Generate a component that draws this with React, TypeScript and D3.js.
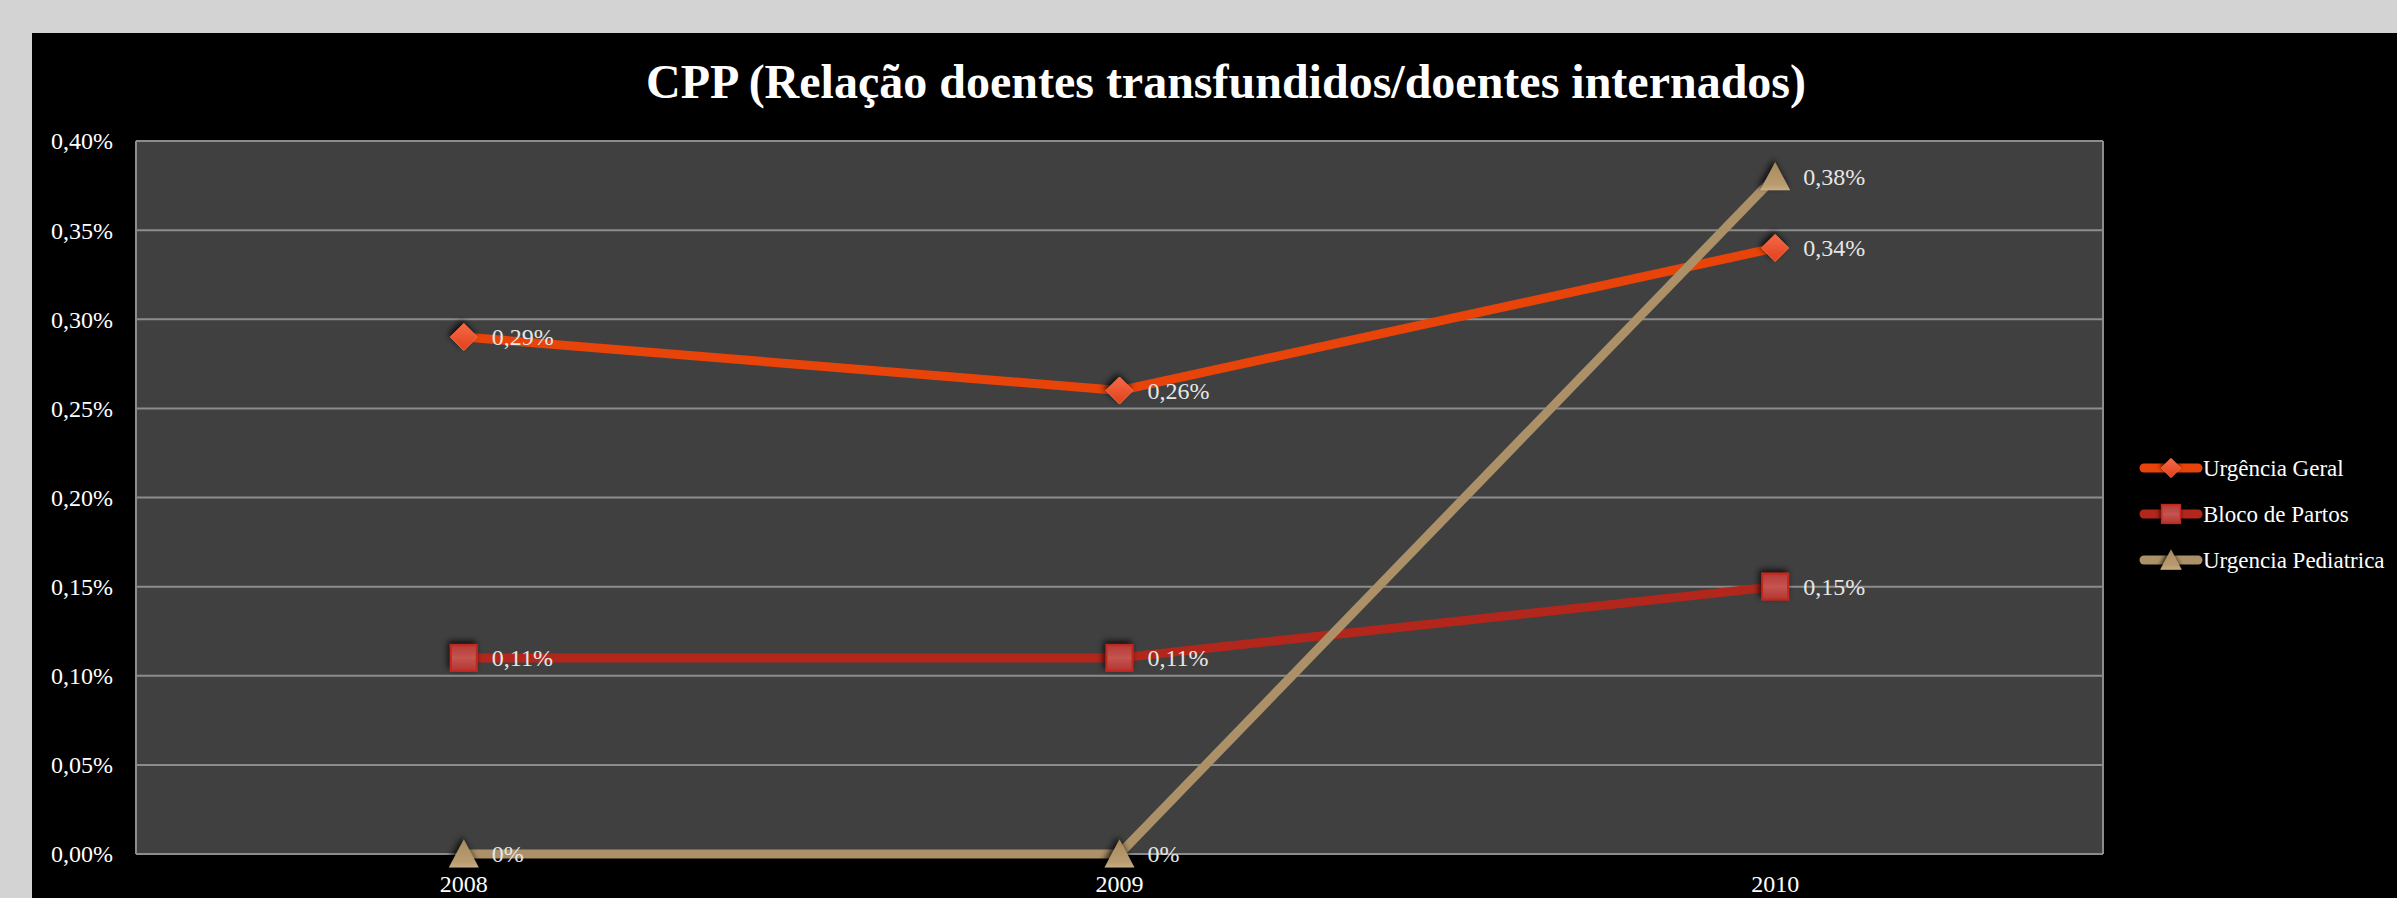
import React from "react";
import * as d3 from "d3";

const categories = ["2008", "2009", "2010"];
const seriesNames = ["Urgência Geral", "Bloco de Partos", "Urgencia Pediatrica"];
const urgenciaGeral = [0.29, 0.26, 0.34];
const blocoPartos = [0.11, 0.11, 0.15];
const urgenciaPediatrica = [0, 0, 0.38];
const labelsUG = ["0,29%", "0,26%", "0,34%"];
const labelsBP = ["0,11%", "0,11%", "0,15%"];
const labelsUP = ["0%", "0%", "0,38%"];
const yTicks = [0, 0.05, 0.1, 0.15, 0.2, 0.25, 0.3, 0.35, 0.4];
const title = "CPP (Relação doentes transfundidos/doentes internados)";

const W = 2397;
const H = 898;
const PL = 136, PR = 2103, PT = 141, PB = 854;
const FONT = "'Liberation Serif', 'DejaVu Serif', serif";

const colors = ["#e84309", "#b3261b", "#ab9068"];
const markerFills = ["url(#gOrange)", "url(#gRed)", "url(#gTan)"];

function Marker({ kind, x, y }: { kind: number; x: number; y: number }) {
  if (kind === 0) {
    const r = 13.5;
    return (
      <path
        d={`M${x},${y - r}L${x + r},${y}L${x},${y + r}L${x - r},${y}Z`}
        fill={markerFills[0]}
        stroke="#ff6a3a"
        strokeWidth={1}
        filter="url(#shadow)"
      />
    );
  }
  if (kind === 1) {
    const s = 13;
    return (
      <rect
        x={x - s}
        y={y - s}
        width={2 * s}
        height={2 * s}
        fill={markerFills[1]}
        stroke="#c2281c"
        strokeWidth={2}
        filter="url(#shadow)"
      />
    );
  }
  const w = 15, h = 27;
  return (
    <path
      d={`M${x},${y - h / 2 - 1}L${x + w},${y + h / 2}L${x - w},${y + h / 2}Z`}
      fill={markerFills[2]}
      filter="url(#shadow)"
    />
  );
}

export default function App() {
  const x = d3.scaleBand<string>().domain(categories).range([PL, PR]);
  const y = d3.scaleLinear().domain([0, 0.4]).range([PB, PT]);
  const cx = (c: string) => (x(c) as number) + x.bandwidth() / 2;
  const all = [urgenciaGeral, blocoPartos, urgenciaPediatrica];
  const labels = [labelsUG, labelsBP, labelsUP];
  const line = d3
    .line<number>()
    .x((_, i) => cx(categories[i]))
    .y((d) => y(d));
  const fmt = (v: number) => v.toFixed(2).replace(".", ",") + "%";

  return (
    <svg
      width={W}
      height={H}
      style={{ position: "absolute", left: 0, top: 0, display: "block" }}
      fontFamily={FONT}
    >
      <defs>
        <filter id="shadow" x="-60%" y="-60%" width="220%" height="220%">
          <feGaussianBlur in="SourceAlpha" stdDeviation="3" />
          <feOffset dx="-2" dy="-3" result="b" />
          <feComponentTransfer>
            <feFuncA type="linear" slope="0.8" />
          </feComponentTransfer>
          <feMerge>
            <feMergeNode />
            <feMergeNode in="SourceGraphic" />
          </feMerge>
        </filter>
        <linearGradient id="gOrange" x1="0" y1="0" x2="0" y2="1">
          <stop offset="0" stopColor="#f46a48" />
          <stop offset="1" stopColor="#e2401c" />
        </linearGradient>
        <linearGradient id="gRed" x1="0" y1="0" x2="0" y2="1">
          <stop offset="0" stopColor="#b53a36" />
          <stop offset="0.5" stopColor="#c55550" />
          <stop offset="1" stopColor="#b33531" />
        </linearGradient>
        <linearGradient id="gTan" x1="0" y1="0" x2="0" y2="1">
          <stop offset="0" stopColor="#a88a5e" />
          <stop offset="0.8" stopColor="#b89c70" />
          <stop offset="1" stopColor="#c8ae84" />
        </linearGradient>
      </defs>
      <rect x={0} y={0} width={W} height={H} fill="#d3d3d3" />
      <rect x={32} y={33} width={W - 32} height={H - 33} fill="#000" />
      <text
        x={1226}
        y={98}
        textAnchor="middle"
        fill="#fff"
        fontWeight="bold"
        fontSize={48}
      >
        {title}
      </text>
      <rect x={PL} y={PT} width={PR - PL} height={PB - PT} fill="#404040" />
      {yTicks.map((t) => (
        <g key={t}>
          <line x1={PL} x2={PR} y1={y(t)} y2={y(t)} stroke="#8c8c8c" strokeWidth={2} />
          <text
            x={113}
            y={y(t)}
            dy="0.35em"
            textAnchor="end"
            fill="#fff"
            fontSize={24}
          >
            {fmt(t)}
          </text>
        </g>
      ))}
      <line x1={PL} x2={PL} y1={PT} y2={PB} stroke="#8c8c8c" strokeWidth={2} />
      <line x1={PR} x2={PR} y1={PT} y2={PB} stroke="#8c8c8c" strokeWidth={2} />
      {categories.map((c) => (
        <text key={c} x={cx(c)} y={884} dy="0.35em" textAnchor="middle" fill="#fff" fontSize={24}>
          {c}
        </text>
      ))}
      {all.map((vals, si) => (
        <path
          key={"l" + si}
          d={line(vals) || ""}
          fill="none"
          stroke={colors[si]}
          strokeWidth={9}
          strokeLinejoin="round"
        />
      ))}
      {all.map((vals, si) =>
        vals.map((v, i) => (
          <Marker key={"m" + si + i} kind={si} x={cx(categories[i])} y={y(v)} />
        ))
      )}
      {all.map((vals, si) =>
        vals.map((v, i) => (
          <text
            key={"t" + si + i}
            x={cx(categories[i]) + 28}
            y={y(v)}
            dy="0.35em"
            fill="#e6e6e6"
            fontSize={24}
          >
            {labels[si][i]}
          </text>
        ))
      )}
      {seriesNames.map((n, i) => {
        const ly = 468 + i * 46;
        return (
          <g key={n}>
            <line
              x1={2144}
              x2={2198}
              y1={ly}
              y2={ly}
              stroke={colors[i]}
              strokeWidth={9}
              strokeLinecap="round"
            />
            <g transform={`translate(${2171},${ly}) scale(0.72) translate(${-2171},${-ly})`}>
              <Marker kind={i} x={2171} y={ly} />
            </g>
            <text x={2203} y={ly} dy="0.35em" fill="#fff" fontSize={23}>
              {n}
            </text>
          </g>
        );
      })}
    </svg>
  );
}
